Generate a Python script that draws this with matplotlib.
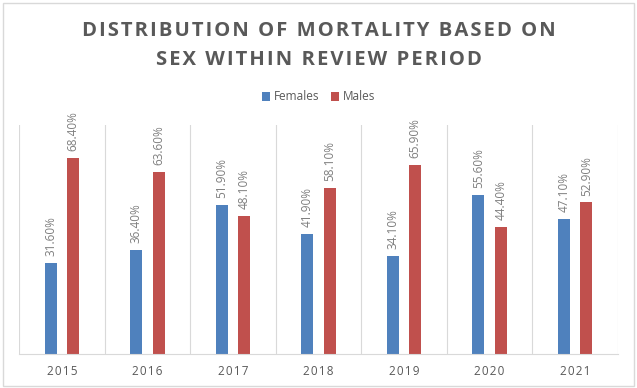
import numpy as np
import matplotlib.pyplot as plt
from matplotlib.patches import Rectangle

years = ['2015', '2016', '2017', '2018', '2019', '2020', '2021']
females = [31.6, 36.4, 51.9, 41.9, 34.1, 55.6, 47.1]
males = [68.4, 63.6, 48.1, 58.1, 65.9, 44.4, 52.9]

blue = '#4F81BD'
red = '#C0504D'
grey = '#595959'

plt.rcParams['font.family'] = ['Open Sans', 'DejaVu Sans']


def spaced(s):
    # crude letter spacing with hair spaces
    return '\u200a'.join(s)


fig = plt.figure(figsize=(6.37, 3.88), dpi=100)
ax = fig.add_axes([0.030, 0.088, 0.940, 0.590])

x = np.arange(len(years))
w = 0.14
off = 0.13
b1 = ax.bar(x - off, females, w, color=blue, label='Females')
b2 = ax.bar(x + off, males, w, color=red, label='Males')

for bars, vals in ((b1, females), (b2, males)):
    for rect, v in zip(bars, vals):
        ax.annotate('%.2f%%' % v, (rect.get_x() + rect.get_width() / 2, v),
                    xytext=(0, 5), textcoords='offset points',
                    rotation=90, ha='center', va='bottom',
                    fontsize=8.5, color='#7f7f7f')

ax.set_xlim(-0.5, len(years) - 0.5)
ax.set_ylim(0, 80)
ax.set_yticks([])
ax.set_xticks(x)
ax.set_xticklabels([spaced(y) for y in years], fontsize=8.5, color=grey)
ax.tick_params(axis='x', length=0, pad=8)
for xb in np.arange(-0.5, len(years), 1.0):
    ax.axvline(xb, color='#d9d9d9', lw=0.8, zorder=0)
for s in ['top', 'right', 'left']:
    ax.spines[s].set_visible(False)
ax.spines['bottom'].set_color('#d9d9d9')

fig.text(0.5, 0.92, spaced('DISTRIBUTION OF MORTALITY BASED ON'), ha='center', va='center',
         fontsize=14.6, fontweight='bold', color=grey)
fig.text(0.5, 0.845, spaced('SEX WITHIN REVIEW PERIOD'), ha='center', va='center',
         fontsize=14.6, fontweight='bold', color=grey)

fig.legend(handles=[b1, b2], loc='center', bbox_to_anchor=(0.5, 0.75), ncol=2,
           frameon=False, fontsize=8.5, handlelength=0.7, handleheight=0.7,
           handletextpad=0.3, columnspacing=1.0, labelcolor=grey)

fig.patches.append(Rectangle((0.004, 0.006), 0.991, 0.987, transform=fig.transFigure,
                             fill=False, edgecolor='#d9d9d9', lw=1))

fig.savefig('out.png', dpi=100)
